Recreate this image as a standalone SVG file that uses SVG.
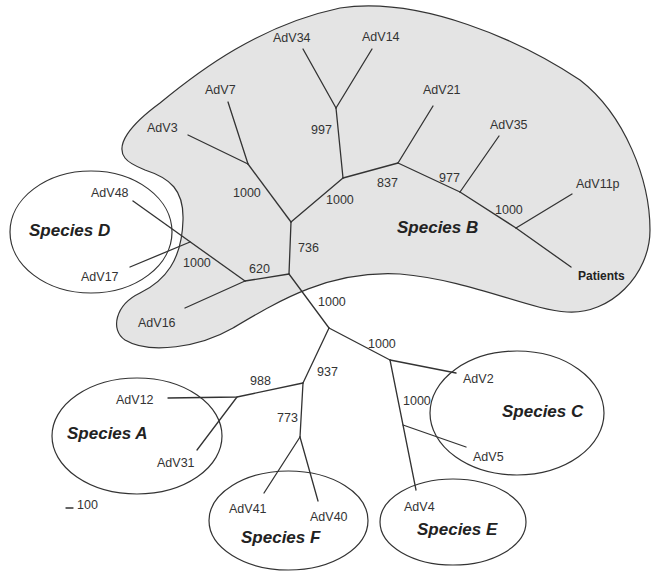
<svg xmlns="http://www.w3.org/2000/svg" width="653" height="573" viewBox="0 0 653 573">
<style>
.bg{fill:#ffffff}
.blob{fill:#e4e4e4;stroke:#333;stroke-width:1.2}
.ell{fill:none;stroke:#333;stroke-width:1.2}
.br{stroke:#333;stroke-width:1.3;fill:none;stroke-linecap:round}
.lf{font-family:"Liberation Sans",Arial,sans-serif;font-size:12.5px;fill:#333}
.bs{font-family:"Liberation Sans",Arial,sans-serif;font-size:12.5px;fill:#333}
.sp{font-family:"Liberation Sans",Arial,sans-serif;font-size:17px;font-weight:bold;font-style:italic;fill:#222}
.pt{font-family:"Liberation Sans",Arial,sans-serif;font-size:12px;font-weight:bold;fill:#222}
</style>
<rect class="bg" x="0" y="0" width="653" height="573"/>
<g id="speciesB">
<path class="blob" d="M125,158 C115,145 130,125 160,103 C200,70 260,25 340,8 C420,-4 520,40 580,80 C625,115 650,180 650,230 C650,275 610,315 567,312 C530,310 470,280 400,274 C330,270 280,300 233,328 C200,347 150,355 125,340 C110,330 115,305 140,293 C165,281 182,260 183,220 C184,190 170,178 145,170 C135,166 128,162 125,158 Z"/>
<text class="sp" x="397" y="233">Species B</text>
</g>
<g id="speciesD">
<ellipse class="ell" cx="91" cy="232" rx="81" ry="61"/>
<text class="sp" x="29" y="236">Species D</text>
</g>
<g id="speciesA">
<ellipse class="ell" cx="137" cy="436" rx="85" ry="58"/>
<text class="sp" x="67" y="439">Species A</text>
</g>
<g id="speciesC">
<ellipse class="ell" cx="517" cy="413" rx="87" ry="62"/>
<text class="sp" x="502" y="417">Species C</text>
</g>
<g id="speciesE">
<ellipse class="ell" cx="453" cy="522" rx="73" ry="43"/>
<text class="sp" x="417" y="535">Species E</text>
</g>
<g id="speciesF">
<ellipse class="ell" cx="288.5" cy="520.5" rx="79.5" ry="49.5"/>
<text class="sp" x="241" y="543">Species F</text>
</g>
<g id="connectors">
<line class="br" x1="188" y1="135" x2="248" y2="164"/>
<line class="br" x1="228" y1="102" x2="248" y2="164"/>
<line class="br" x1="248" y1="164" x2="291" y2="222"/>
<line class="br" x1="303" y1="49" x2="336" y2="108"/>
<line class="br" x1="372" y1="49" x2="336" y2="108"/>
<line class="br" x1="336" y1="108" x2="343" y2="178"/>
<line class="br" x1="343" y1="178" x2="291" y2="222"/>
<line class="br" x1="343" y1="178" x2="398" y2="163"/>
<line class="br" x1="433" y1="106" x2="398" y2="163"/>
<line class="br" x1="398" y1="163" x2="460" y2="192"/>
<line class="br" x1="499" y1="136" x2="460" y2="192"/>
<line class="br" x1="460" y1="192" x2="516" y2="228"/>
<line class="br" x1="572" y1="194" x2="516" y2="228"/>
<line class="br" x1="516" y1="228" x2="571" y2="267"/>
<line class="br" x1="291" y1="222" x2="289" y2="274"/>
<line class="br" x1="289" y1="274" x2="245" y2="281"/>
<line class="br" x1="133" y1="201" x2="245" y2="281"/>
<line class="br" x1="130" y1="267" x2="190" y2="242"/>
<line class="br" x1="185" y1="308" x2="245" y2="281"/>
<line class="br" x1="289" y1="274" x2="329" y2="328"/>
<line class="br" x1="329" y1="328" x2="390" y2="360"/>
<line class="br" x1="390" y1="360" x2="456" y2="373"/>
<line class="br" x1="390" y1="360" x2="416" y2="490"/>
<line class="br" x1="403" y1="425" x2="466" y2="447"/>
<line class="br" x1="329" y1="328" x2="303" y2="383"/>
<polyline class="br" points="303,383 237,397 168,398"/>
<line class="br" x1="197" y1="450" x2="237" y2="397"/>
<line class="br" x1="303" y1="383" x2="300" y2="437"/>
<line class="br" x1="300" y1="437" x2="264" y2="493"/>
<line class="br" x1="300" y1="437" x2="318" y2="501"/>
<line class="br" x1="66" y1="508" x2="73" y2="508"/>
</g>
<g id="leaves">
<text class="lf" x="147" y="132">AdV3</text>
<text class="lf" x="205" y="94">AdV7</text>
<text class="lf" x="273" y="42">AdV34</text>
<text class="lf" x="362" y="41">AdV14</text>
<text class="lf" x="423" y="94">AdV21</text>
<text class="lf" x="490" y="129">AdV35</text>
<text class="lf" x="576" y="188">AdV11p</text>
<text class="pt" x="578" y="280">Patients</text>
<text class="lf" x="91" y="197">AdV48</text>
<text class="lf" x="81" y="281">AdV17</text>
<text class="lf" x="138" y="327">AdV16</text>
<text class="lf" x="116" y="404">AdV12</text>
<text class="lf" x="157" y="467">AdV31</text>
<text class="lf" x="229" y="513">AdV41</text>
<text class="lf" x="310" y="521">AdV40</text>
<text class="lf" x="463" y="383">AdV2</text>
<text class="lf" x="473" y="461">AdV5</text>
<text class="lf" x="404" y="511">AdV4</text>
<text class="lf" x="77" y="509">100</text>
</g>
<g id="bootstrap">
<text class="bs" x="311" y="134">997</text>
<text class="bs" x="233" y="197">1000</text>
<text class="bs" x="326" y="204">1000</text>
<text class="bs" x="377" y="187">837</text>
<text class="bs" x="439" y="182">977</text>
<text class="bs" x="495" y="214">1000</text>
<text class="bs" x="298" y="252">736</text>
<text class="bs" x="249" y="273">620</text>
<text class="bs" x="183" y="267">1000</text>
<text class="bs" x="318" y="306">1000</text>
<text class="bs" x="368" y="348">1000</text>
<text class="bs" x="317" y="376">937</text>
<text class="bs" x="403" y="405">1000</text>
<text class="bs" x="250" y="385">988</text>
<text class="bs" x="277" y="422">773</text>
</g>
</svg>
